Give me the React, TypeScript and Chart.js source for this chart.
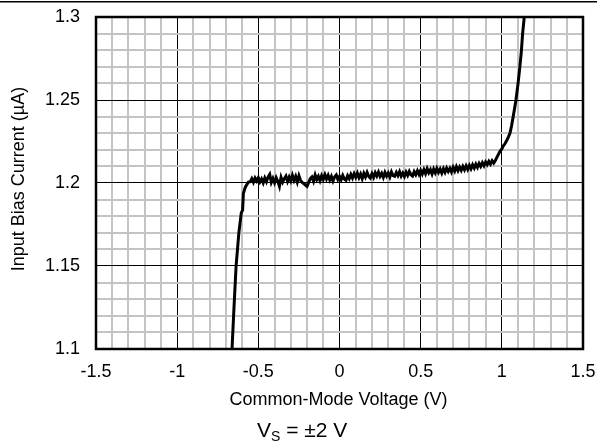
import React, { useEffect, useRef } from "react";
import { Chart, registerables } from "chart.js";

Chart.register(...registerables);

const xRise: number[] = [-0.666, -0.662, -0.65, -0.637, -0.62, -0.605, -0.597, -0.592, -0.58, -0.568, -0.561];
const yRise: number[] = [1.092, 1.1, 1.125, 1.15, 1.17, 1.182, 1.1837, 1.1938, 1.1975, 1.1995, 1.2005];

const xFlat: number[] = [
  -0.55, -0.54, -0.53, -0.52, -0.51, -0.5, -0.49, -0.48, -0.47, -0.46,
  -0.45, -0.44, -0.43, -0.42, -0.41, -0.4, -0.39, -0.38, -0.37, -0.36,
  -0.35, -0.34, -0.33, -0.32, -0.31, -0.3, -0.29, -0.28, -0.27, -0.26,
  -0.25, -0.24, -0.23, -0.22, -0.21, -0.2, -0.19, -0.18, -0.17, -0.16,
  -0.15, -0.14, -0.13, -0.12, -0.11, -0.1, -0.09, -0.08, -0.07, -0.06,
  -0.05, -0.04, -0.03, -0.02, -0.01, 0.0, 0.01, 0.02, 0.03, 0.04,
  0.05, 0.06, 0.07, 0.08, 0.09, 0.1, 0.11, 0.12, 0.13, 0.14,
  0.15, 0.16, 0.17, 0.18, 0.19, 0.2, 0.21, 0.22, 0.23, 0.24,
  0.25, 0.26, 0.27, 0.28, 0.29, 0.3, 0.31, 0.32, 0.33, 0.34,
  0.35, 0.36, 0.37, 0.38, 0.39, 0.4, 0.41, 0.42, 0.43, 0.44,
  0.45, 0.46, 0.47, 0.48, 0.49, 0.5, 0.51, 0.52, 0.53, 0.54,
  0.55, 0.56, 0.57, 0.58, 0.59, 0.6, 0.61, 0.62, 0.63, 0.64,
  0.65, 0.66, 0.67, 0.68, 0.69, 0.7, 0.71, 0.72, 0.73, 0.74,
  0.75, 0.76, 0.77, 0.78, 0.79, 0.8, 0.81, 0.82, 0.83, 0.84,
  0.85, 0.86, 0.87, 0.88, 0.89, 0.9, 0.91, 0.92, 0.93, 0.94,
  0.95, 0.96,
];
const yFlat: number[] = [
  1.2008, 1.2026, 1.2004, 1.203, 1.2012, 1.2032, 1.2006, 1.2024, 1.2, 1.203,
  1.2008, 1.2036, 1.2052, 1.2004, 1.2028, 1.2002, 1.2032, 1.201, 1.198, 1.2034,
  1.2006, 1.2026, 1.2042, 1.201, 1.2036, 1.2012, 1.2046, 1.2016, 1.204, 1.2006,
  1.2044, 1.2016, 1.2004, 1.1996, 1.1988, 1.198, 1.2004, 1.2026, 1.2036, 1.201,
  1.2048, 1.202, 1.204, 1.2014, 1.2044, 1.2022, 1.205, 1.2024, 1.2046, 1.2018,
  1.204, 1.2012, 1.2036, 1.2048, 1.2022, 1.204, 1.202, 1.2046, 1.2024, 1.2016,
  1.2044, 1.2026, 1.2052, 1.203, 1.2056, 1.2034, 1.206, 1.2032, 1.2054, 1.2026,
  1.2058, 1.2036, 1.2064, 1.204, 1.203, 1.2056, 1.2034, 1.2062, 1.2042, 1.2066,
  1.204, 1.2058, 1.2034, 1.2064, 1.2042, 1.206, 1.2036, 1.2066, 1.2044, 1.204,
  1.2064, 1.2044, 1.2068, 1.2042, 1.206, 1.204, 1.2066, 1.2046, 1.207, 1.205,
  1.2042, 1.2068, 1.205, 1.2074, 1.2052, 1.2076, 1.2054, 1.208, 1.2056, 1.2086,
  1.2062, 1.208, 1.2054, 1.2084, 1.2062, 1.2088, 1.2064, 1.2084, 1.206, 1.2086,
  1.2064, 1.209, 1.207, 1.2088, 1.2066, 1.2094, 1.2072, 1.2098, 1.2074, 1.2096,
  1.2076, 1.21, 1.208, 1.2104, 1.2082, 1.2106, 1.2086, 1.211, 1.209, 1.2114,
  1.2094, 1.2118, 1.21, 1.2122, 1.2104, 1.2126, 1.211, 1.213, 1.2114, 1.2134,
  1.212, 1.2136,
];

const xKnee: number[] = [0.975, 0.988, 1.0, 1.007, 1.02, 1.03, 1.04, 1.05, 1.06, 1.07, 1.08, 1.087, 1.1, 1.111, 1.12, 1.128, 1.138, 1.145];
const yKnee: number[] = [1.2165, 1.2189, 1.2205, 1.222, 1.2238, 1.2256, 1.2276, 1.23, 1.2345, 1.24, 1.2458, 1.25, 1.26, 1.27, 1.279, 1.29, 1.3, 1.306];

const xTickLabels: number[] = [-1.5, -1, -0.5, 0, 0.5, 1, 1.5];
const yTickLabels: number[] = [1.1, 1.15, 1.2, 1.25, 1.3];

const FONT = '"Liberation Sans", Arial, sans-serif';

const isMajorX = (v: number) => xTickLabels.some((t) => Math.abs(t - v) < 1e-6);
const isMajorY = (v: number) => yTickLabels.some((t) => Math.abs(t - v) < 1e-6);

export default function App() {
  const ref = useRef<HTMLCanvasElement>(null);

  useEffect(() => {
    const canvas = ref.current;
    if (!canvas) return;
    const xs = [...xRise, ...xFlat, ...xKnee];
    const ys = [...yRise, ...yFlat, ...yKnee];
    const points = xs.map((x, i) => ({ x, y: ys[i] }));

    const decor = {
      id: "decor",
      afterDatasetsDraw(chart: any) {
        const { ctx, chartArea } = chart;
        ctx.save();
        ctx.strokeStyle = "#000";
        ctx.lineWidth = 2.5;
        ctx.strokeRect(chartArea.left, chartArea.top, chartArea.right - chartArea.left, chartArea.bottom - chartArea.top);
        ctx.restore();
      },
      afterDraw(chart: any) {
        const { ctx } = chart;
        ctx.save();
        ctx.fillStyle = "#000";
        ctx.fillRect(0, 1, 597, 1.5);
        ctx.font = `18px ${FONT}`;
        ctx.textAlign = "center";
        ctx.textBaseline = "middle";
        ctx.fillText("Common-Mode Voltage (V)", 338.5, 400);
        ctx.save();
        ctx.translate(19, 179);
        ctx.rotate(-Math.PI / 2);
        ctx.fillText("Input Bias Current (\u00b5A)", 0, 0);
        ctx.restore();
        // V_S = ±2 V
        ctx.textAlign = "left";
        ctx.textBaseline = "alphabetic";
        let x = 257;
        const base = 437;
        ctx.font = `21px ${FONT}`;
        ctx.fillText("V", x, base);
        x += ctx.measureText("V").width;
        ctx.font = `14px ${FONT}`;
        ctx.fillText("S", x, base + 4);
        x += ctx.measureText("S").width;
        ctx.font = `21px ${FONT}`;
        ctx.fillText(" = \u00b12 V", x, base);
        ctx.restore();
      },
    };

    const chart = new Chart(canvas, {
      type: "scatter",
      data: {
        datasets: [
          {
            data: points,
            showLine: true,
            borderColor: "#000",
            borderWidth: 3,
            pointRadius: 0,
            tension: 0,
            fill: false,
          },
        ],
      },
      options: {
        responsive: false,
        animation: false,
        events: [],
        layout: { padding: { top: 17, right: 14, left: 0, bottom: 0 } },
        plugins: { legend: { display: false }, tooltip: { enabled: false }, title: { display: false } },
        scales: {
          x: {
            type: "linear",
            min: -1.5,
            max: 1.5,
            afterFit: (s: any) => {
              s.height = 93;
              s.paddingLeft = 0;
              s.paddingRight = 0;
            },
            border: { display: false },
            grid: {
              drawTicks: false,
              color: (c: any) => (isMajorX(c.tick.value) ? "#000" : "#c4c4c4"),
              lineWidth: (c: any) => (isMajorX(c.tick.value) ? 1 : 2),
            },
            ticks: {
              stepSize: 0.1,
              autoSkip: false,
              maxRotation: 0,
              padding: 12,
              color: "#000",
              font: { size: 18, family: FONT },
              callback: (v: any) => (isMajorX(Number(v)) ? String(Math.round(Number(v) * 10) / 10) : ""),
            },
          },
          y: {
            type: "linear",
            min: 1.1,
            max: 1.3,
            afterFit: (s: any) => {
              s.width = 96;
              s.paddingTop = 0;
              s.paddingBottom = 0;
            },
            border: { display: false },
            grid: {
              drawTicks: false,
              color: (c: any) => (isMajorY(c.tick.value) ? "#000" : "#c4c4c4"),
              lineWidth: (c: any) => (isMajorY(c.tick.value) ? 1 : 2),
            },
            ticks: {
              stepSize: 0.01,
              autoSkip: false,
              padding: 16,
              color: "#000",
              font: { size: 18, family: FONT },
              callback: (v: any) => (isMajorY(Number(v)) ? String(Math.round(Number(v) * 100) / 100) : ""),
            },
          },
        },
      },
      plugins: [decor],
    } as any);
    return () => chart.destroy();
  }, []);

  return (
    <div style={{ position: "fixed", left: 0, top: 0, width: 597, height: 442, background: "#fff" }}>
      <canvas ref={ref} width={597} height={442} style={{ width: 597, height: 442, display: "block" }} />
    </div>
  );
}
